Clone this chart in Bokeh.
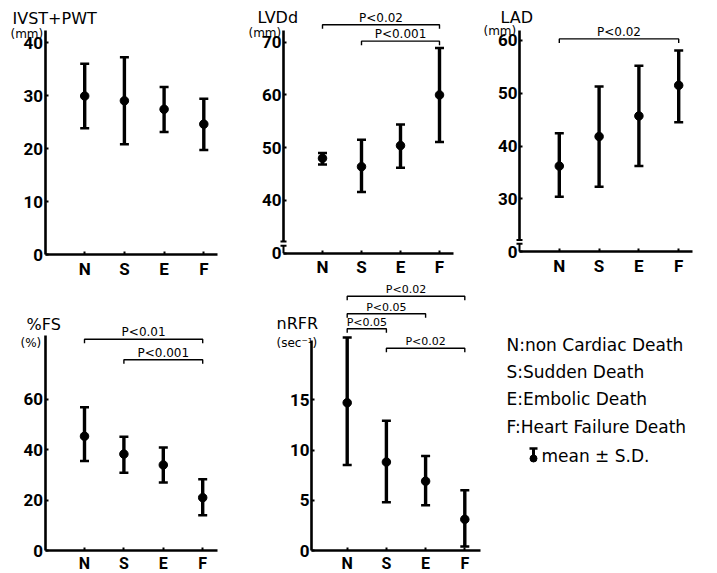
from bokeh.plotting import figure
from bokeh.layouts import column, row
from bokeh.models import Range1d, FixedTicker, ColumnDataSource
from bokeh.embed import file_html
from bokeh.resources import INLINE
from bokeh.core.properties import value

# ---------------- data ----------------
categories = ["N", "S", "E", "F"]
cat_pos = [1, 2, 3, 4]

ivst_mean = [29.9, 29.0, 27.4, 24.6]
ivst_upper = [36.0, 37.2, 31.6, 29.4]
ivst_lower = [23.8, 20.8, 23.1, 19.7]

lvdd_mean = [48.0, 46.4, 50.4, 60.0]
lvdd_upper = [49.0, 51.5, 54.4, 68.9]
lvdd_lower = [46.8, 41.6, 46.2, 51.1]

lad_mean = [36.2, 41.8, 45.7, 51.5]
lad_upper = [42.4, 51.3, 55.2, 58.1]
lad_lower = [30.4, 32.3, 36.2, 44.5]

fs_mean = [45.4, 38.3, 34.0, 21.0]
fs_upper = [56.9, 45.2, 40.9, 28.3]
fs_lower = [35.6, 30.9, 27.0, 14.0]

nrfr_mean = [14.7, 8.8, 6.9, 3.1]
nrfr_upper = [21.2, 12.9, 9.4, 6.0]
nrfr_lower = [8.5, 4.8, 4.5, 0.4]

ivst_ticks = [0, 10, 20, 30, 40]
lvdd_ticks = [30, 40, 50, 60, 70]
lad_ticks = [20, 30, 40, 50, 60]
fs_ticks = [0, 20, 40, 60]
nrfr_ticks = [0, 5, 10, 15]

lvdd_brackets = [("N", "F", "P<0.02", 73.3), ("S", "F", "P<0.001", 70.2)]
lad_brackets = [("N", "F", "P<0.02", 60.3)]
fs_brackets = [("N", "F", "P<0.01", 83.9), ("S", "F", "P<0.001", 75.8)]
nrfr_brackets = [("N", "F", "P<0.02", 25.3), ("N", "E", "P<0.05", 23.55),
                 ("N", "S", "P<0.05", 22.06), ("S", "F", "P<0.02", 20.13)]

legend_labels = ["N:non Cardiac Death", "S:Sudden Death",
                 "E:Embolic Death", "F:Heart Failure Death"]
sd_label = "mean ± S.D."

FONT = "DejaVu Sans"
NUMFONT = "Roboto"


def build_panel(spec, mean, upper, lower, brackets, title, unit):
    X0, Y0, W, H = spec["box"]
    ax, bx, ay, by = spec["map"]

    def px(xp, yp):
        return (xp - ax) / bx, (ay - yp) / by

    p = figure(width=W, height=H,
               x_range=Range1d((X0 - ax) / bx, (X0 + W - ax) / bx),
               y_range=Range1d((ay - (Y0 + H)) / by, (ay - Y0) / by),
               output_backend="svg", toolbar_location=None,
               min_border=0, outline_line_color=None,
               background_fill_color="white", border_fill_color="white")
    p.grid.visible = False
    base = spec["base"]
    yx = spec["yaxis_x"]
    xa = p.xaxis[0]
    ya = p.yaxis[0]
    xa.fixed_location = base
    ya.fixed_location = yx
    xa.bounds = (yx, spec["xend"])
    ya.bounds = (spec.get("break_top", base), spec["ytop"])
    xa.ticker = FixedTicker(ticks=cat_pos)
    xa.major_label_overrides = dict(zip(cat_pos, categories))
    ya.ticker = FixedTicker(ticks=spec["yticks"])
    if "overrides" in spec:
        ya.major_label_overrides = spec["overrides"]
    for a in (xa, ya):
        a.axis_line_width = 2.6
        a.axis_line_color = "black"
        a.major_tick_line_width = 2
        a.major_tick_line_color = "black"
        a.major_tick_in = 3
        a.major_tick_out = 0
        a.minor_tick_line_color = None
        a.major_label_text_font = NUMFONT
        a.major_label_text_font_size = "17px"
        a.major_label_text_font_style = "bold"
        a.major_label_text_color = "black"
    xa.major_label_text_font_size = spec.get("xfont", "17px")
    xa.major_label_standoff = spec.get("xstand", 4)
    ya.major_label_standoff = 2

    # axis break
    if "break_top" in spec:
        bt = spec["break_top"]
        bs = spec["break_stub"]
        hw = 3.0 / bx
        p.segment(x0=[yx, yx - hw, yx - hw], y0=[base, bt, bs],
                  x1=[yx, yx + hw, yx + hw], y1=[bs, bt, bs],
                  line_color="black", line_width=2)

    src = ColumnDataSource(dict(x=cat_pos, m=mean, u=upper, l=lower))
    p.segment(x0="x", y0="l", x1="x", y1="u", source=src,
              line_color="black", line_width=3.4)
    p.scatter(x="x", y="u", source=src, marker="dash", size=9,
              line_color="black", line_width=2.5)
    p.scatter(x="x", y="l", source=src, marker="dash", size=9,
              line_color="black", line_width=2.5)
    p.scatter(x="x", y="m", source=src, marker="circle", size=8.5,
              color="black")

    # significance brackets
    drop = 4.0 / by
    for a, b, lab, lvl in brackets:
        xa_ = cat_pos[categories.index(a)]
        xb_ = cat_pos[categories.index(b)]
        p.line(x=[xa_, xa_, xb_, xb_], y=[lvl - drop, lvl, lvl, lvl - drop],
               line_color="black", line_width=1.4)
        p.text(x=[(xa_ + xb_) / 2], y=[lvl], text=[lab],
               text_font=value(FONT), text_font_size=spec["pfont"],
               text_align="center", text_baseline="bottom", y_offset=0,
               text_color="black")

    # title and unit
    tx, ty = px(*spec["title_at"])
    p.text(x=[tx], y=[ty], text=[title], text_font=value(FONT),
           text_font_size="16px", text_align="left",
           text_baseline="middle", text_color="black")
    ux, uy = px(*spec["unit_at"])
    p.text(x=[ux], y=[uy], text=[unit], text_font=value(FONT),
           text_font_size="12px", text_align="left",
           text_baseline="middle", text_color="black")
    return p


spec1 = dict(box=(0, 0, 248, 280), map=(44.5, 39.7, 254.0, 5.3), base=0,
             yaxis_x=0, xend=4.345, ytop=42.26, yticks=ivst_ticks,
             pfont="12px", title_at=(12, 18), unit_at=(10, 33))
spec2 = dict(box=(248, 0, 230, 280), map=(283.0, 39.0, 410.95, 5.275),
             base=30, yaxis_x=0, xend=4.35, ytop=72.2, yticks=lvdd_ticks,
             overrides={30: "0"}, break_top=32.2, break_stub=31.4,
             pfont="12px", title_at=(257, 17), unit_at=(248, 32))
spec3 = dict(box=(478, 0, 239, 280), map=(519.0, 39.8, 356.6, 5.277),
             base=20, yaxis_x=0, xend=4.35, ytop=61.9, yticks=lad_ticks,
             overrides={20: "0"}, break_top=22.2, break_stub=21.5,
             pfont="12px", title_at=(500, 17), unit_at=(483, 30))
spec4 = dict(box=(0, 280, 255, 293), map=(44.6, 39.4, 550.0, 2.517), base=0,
             yaxis_x=0, xend=4.37, ytop=85.4, yticks=fs_ticks,
             xfont="16px", xstand=3,
             pfont="12px", title_at=(26, 324), unit_at=(20, 342))
spec5 = dict(box=(255, 280, 240, 293), map=(307.5, 39.2, 550.0, 10.05),
             base=0, yaxis_x=0.09, xend=4.40, ytop=20.9, yticks=nrfr_ticks,
             xfont="16px", xstand=3,
             pfont="11px", title_at=(276, 323), unit_at=(276, 342))

p1 = build_panel(spec1, ivst_mean, ivst_upper, ivst_lower, [], "IVST+PWT", "(mm)")
p2 = build_panel(spec2, lvdd_mean, lvdd_upper, lvdd_lower, lvdd_brackets, "LVDd", "(mm)")
p3 = build_panel(spec3, lad_mean, lad_upper, lad_lower, lad_brackets, "LAD", "(mm)")
p4 = build_panel(spec4, fs_mean, fs_upper, fs_lower, fs_brackets, "%FS", "(%)")
p5 = build_panel(spec5, nrfr_mean, nrfr_upper, nrfr_lower, nrfr_brackets, "nRFR", "(sec⁻¹)")

# legend panel (screen-pixel coordinates)
lg = figure(width=222, height=293, x_range=Range1d(495, 717),
            y_range=Range1d(573, 280), output_backend="svg",
            toolbar_location=None, min_border=0, outline_line_color=None)
lg.axis.visible = False
lg.grid.visible = False
lg.text(x=[506] * 4, y=[344, 371, 398, 426], text=legend_labels,
        text_font=value(FONT), text_font_size="17px", text_align="left",
        text_baseline="middle", text_color="black")
lg.segment(x0=[533], y0=[448], x1=[533], y1=[461], line_color="black",
           line_width=3)
lg.scatter(x=[533], y=[448], marker="dash", size=8, line_color="black",
           line_width=2.5)
lg.scatter(x=[533], y=[458], marker="circle", size=7, color="black")
lg.text(x=[541], y=[455], text=[sd_label], text_font=value(FONT),
        text_font_size="17px", text_align="left", text_baseline="middle",
        text_color="black")

layout = column(row(p1, p2, p3), row(p4, p5, lg))
open("out.html", "w").write(file_html(layout, INLINE))
